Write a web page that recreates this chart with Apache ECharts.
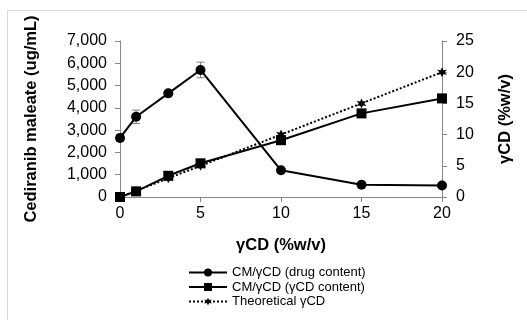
<!DOCTYPE html>
<html>
<head>
<meta charset="utf-8">
<script src="https://cdn.jsdelivr.net/npm/echarts@6/dist/echarts.min.js"></script>
<style>
html,body{margin:0;padding:0;background:#fff;}
#chart{width:527px;height:320px;}
</style>
</head>
<body>
<div id="chart"></div>
<script>
// γCD concentration (%w/v)
const cdLevels = [0, 1, 3, 5, 10, 15, 20];
// Cediranib maleate content (ug/mL) with standard deviation
const drugContent = [2650, 3600, 4650, 5700, 1200, 550, 520];
const drugError = [150, 300, 0, 350, 0, 0, 0];
// Measured γCD content (%w/v)
const cdContent = [0, 0.9, 3.4, 5.4, 9.1, 13.4, 15.8];
// Theoretical γCD (%w/v)
const cdTheoretical = [0, 1, 3, 5, 10, 15, 20];

const leftTicks = [0, 1000, 2000, 3000, 4000, 5000, 6000, 7000];
const rightTicks = [0, 5, 10, 15, 20, 25];
const xTicks = [0, 5, 10, 15, 20];

const seriesNames = ['CM/γCD (drug content)', 'CM/γCD (γCD content)', 'Theoretical γCD'];

const font = 'Liberation Sans, Arial, sans-serif';
const axisGray = '#868686';

const pairs = (xs, ys) => xs.map((x, i) => [x, ys[i]]);
const errData = cdLevels.map((x, i) => [x, drugContent[i] - drugError[i], drugContent[i] + drugError[i], drugError[i]]);

const burst = 'path://M0,-10 L2.5,-4 L8.7,-5 L4.5,0 L8.7,5 L2.5,4 L0,10 L-2.5,4 L-8.7,5 L-4.5,0 L-8.7,-5 L-2.5,-4 Z';

const titleStyle = {fontSize: 16.5, fontWeight: 'bold', color: '#000', fontFamily: font};

const chart = echarts.init(document.getElementById('chart'), null, {renderer: 'canvas'});
chart.setOption({
  animation: false,
  backgroundColor: '#fff',
  textStyle: {fontFamily: font},
  graphic: [{
    type: 'rect', left: 7, top: 10, z: -1,
    shape: {width: 560, height: 340},
    style: {fill: '#fff', stroke: '#d9d9d9', lineWidth: 1}
  }],
  grid: {left: 120, right: 85, top: 41, bottom: 123},
  legend: {
    orient: 'vertical', left: 183, top: 261, itemGap: 1.5,
    itemWidth: 38, itemHeight: 10,
    textStyle: {fontSize: 13, color: '#000', fontFamily: font, lineHeight: 13},
    data: seriesNames
  },
  xAxis: {
    type: 'value', min: 0, max: 20, interval: 5,
    name: 'γCD (%w/v)', nameLocation: 'middle', nameGap: 40,
    nameTextStyle: titleStyle,
    axisLine: {show: true, lineStyle: {color: axisGray, width: 1}},
    axisTick: {show: true, length: 5, lineStyle: {color: axisGray}},
    axisLabel: {fontSize: 16, color: '#000', margin: 9, customValues: xTicks},
    splitLine: {show: false}
  },
  yAxis: [{
    type: 'value', min: 0, max: 7000, interval: 1000, position: 'left',
    name: 'Cediranib maleate (ug/mL)', nameLocation: 'middle', nameGap: 80, nameRotate: 90,
    nameTextStyle: titleStyle,
    axisLine: {show: true, lineStyle: {color: axisGray, width: 1}},
    axisTick: {show: true, length: 5, lineStyle: {color: axisGray}},
    axisLabel: {fontSize: 16, color: '#000', margin: 13,
      formatter: v => v.toLocaleString('en-US')},
    splitLine: {show: false}
  }, {
    type: 'value', min: 0, max: 25, interval: 5, position: 'right',
    name: 'γCD (%w/v)', nameLocation: 'middle', nameGap: 55, nameRotate: 90,
    nameTextStyle: titleStyle,
    axisLine: {show: true, lineStyle: {color: axisGray, width: 1}},
    axisTick: {show: true, length: 5, lineStyle: {color: axisGray}},
    axisLabel: {fontSize: 16, color: '#000', margin: 14},
    splitLine: {show: false}
  }],
  series: [{
    name: seriesNames[0], type: 'line', yAxisIndex: 0,
    data: pairs(cdLevels, drugContent),
    symbol: 'circle', symbolSize: 10,
    lineStyle: {color: '#000', width: 2}, itemStyle: {color: '#000'}, z: 4
  }, {
    name: 'err', type: 'custom', yAxisIndex: 0, z: 3,
    data: errData,
    renderItem: (params, api) => {
      if (api.value(3) <= 0) return null;
      const x = api.value(0);
      const lo = api.coord([x, api.value(1)]);
      const hi = api.coord([x, api.value(2)]);
      const w = 4;
      const st = {stroke: '#7f7f7f', lineWidth: 1};
      return {type: 'group', children: [
        {type: 'line', shape: {x1: lo[0], y1: lo[1], x2: hi[0], y2: hi[1]}, style: st},
        {type: 'line', shape: {x1: lo[0] - w, y1: lo[1], x2: lo[0] + w, y2: lo[1]}, style: st},
        {type: 'line', shape: {x1: hi[0] - w, y1: hi[1], x2: hi[0] + w, y2: hi[1]}, style: st}
      ]};
    }
  }, {
    name: seriesNames[1], type: 'line', yAxisIndex: 1,
    data: pairs(cdLevels, cdContent),
    symbol: 'rect', symbolSize: 10,
    lineStyle: {color: '#000', width: 2}, itemStyle: {color: '#000'}, z: 4
  }, {
    name: seriesNames[2], type: 'line', yAxisIndex: 1,
    data: pairs(cdLevels, cdTheoretical),
    symbol: burst, symbolSize: 10,
    lineStyle: {color: '#000', width: 2, type: [2, 2]}, itemStyle: {color: '#000'}, z: 3
  }]
});
</script>
</body>
</html>
